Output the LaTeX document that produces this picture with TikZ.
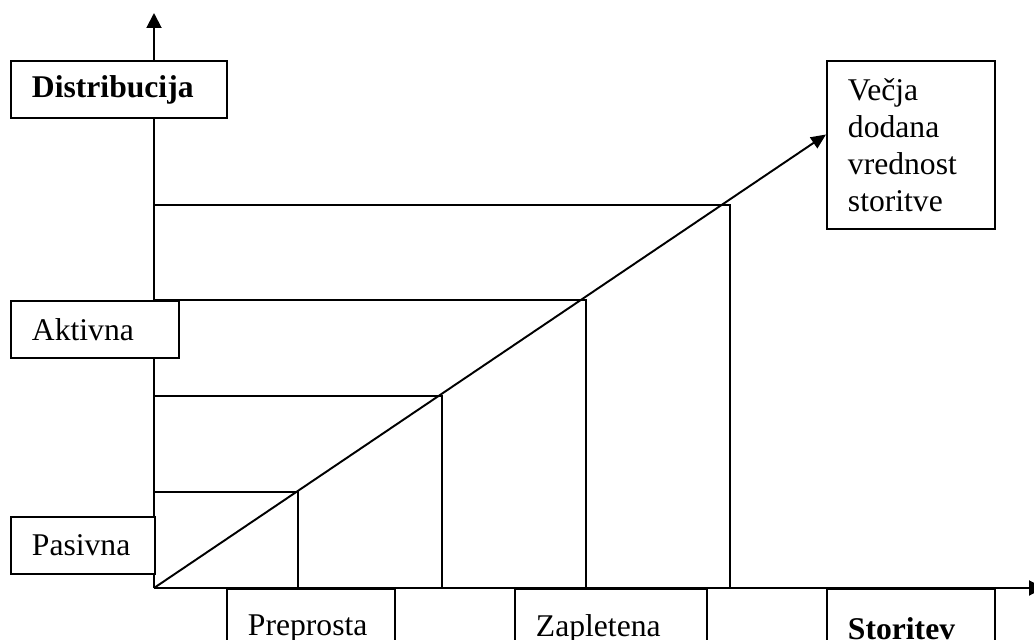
\documentclass[tikz,border=0pt]{standalone}
\usepackage{fontspec}
\setmainfont{Liberation Serif}
\usetikzlibrary{arrows.meta}

\tikzset{
  box/.style={draw, fill=white, line width=1.1pt, anchor=north west,
    inner xsep=0.42cm, inner ysep=0pt, align=left,
    font=\fontsize{18}{21}\selectfont},
  boldbox/.style={box, font=\fontsize{18}{21}\selectfont\bfseries},
  axis/.style={line width=1.1pt, -{Triangle[length=0.3cm,width=0.3cm]}},
}

\begin{document}
\begin{tikzpicture}[x=0.02cm, y=-0.02cm, line width=1.1pt]
\useasboundingbox (0,0) rectangle (1034,639);
\clip (0,0) rectangle (1034,639);
\coordinate (O) at (154,588);

% steps under the diagonal
\foreach \x/\y in {298/492,442/396,586/300,730/205}
  \draw (154,\y) -| (\x,588);

% axes
\draw[axis] (O) -- (154,13);
\draw[axis] (O) -- (1044,588);

% labels on the axes
\node[boldbox, text width=3.48cm, minimum height=1.14cm] (distr) at (10,60) {Distribucija};
\node[box, text width=2.52cm, minimum height=1.14cm] (aktiv) at (10,300) {Aktivna};
\node[box, text width=2.04cm, minimum height=1.14cm] (pasiv) at (10,516) {Pasivna};
\node[box, text width=2.52cm, minimum height=1.6cm] (prepr) at (226,588) {Preprosta};
\node[box, text width=3.0cm, minimum height=1.6cm] (zaple) at (514,588) {Zapletena};
\node[boldbox, text width=2.52cm, minimum height=1.6cm] (storit) at (826,588) {Storitev};
\node[box, text width=2.52cm, minimum height=3.36cm] (vecja) at (826,60) {Večja\\dodana\\vrednost\\storitve};

\draw[-{Triangle[length=0.3cm,width=0.26cm]}] (O) -- (vecja.173);
\end{tikzpicture}
\end{document}
